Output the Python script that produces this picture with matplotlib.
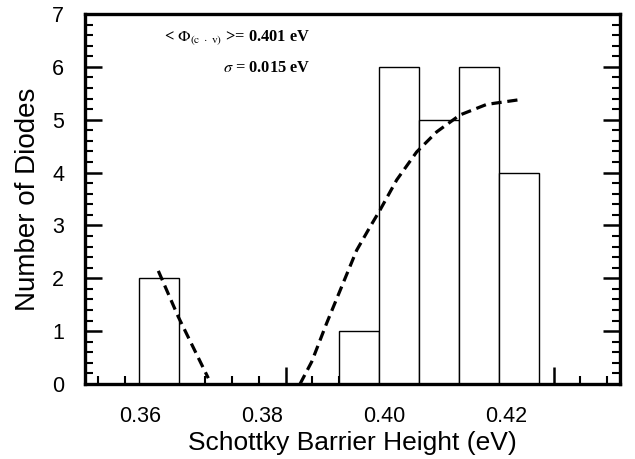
import matplotlib
matplotlib.use("Agg")
import matplotlib.pyplot as plt
import numpy as np

# ---- data ----
bin_left = [0.35984, 0.39257, 0.39912, 0.40566, 0.41221, 0.41876]
counts = [2, 1, 6, 5, 6, 4]
bin_width = 0.00655

fit_left_x = [0.36300, 0.36627, 0.37118]
fit_left_y = [2.14, 1.27, 0.11]
fit_right_x = [0.38619, 0.38810, 0.39055, 0.39300, 0.39546, 0.39764, 0.39928,
               0.40201, 0.40528, 0.40856, 0.41237, 0.41674, 0.42219]
fit_right_y = [0.0, 0.42, 1.15, 1.84, 2.53, 2.97, 3.29,
               3.86, 4.39, 4.77, 5.09, 5.29, 5.38]

xtick_labels = ["0.36", "0.38", "0.40", "0.42"]
xtick_values = [0.36, 0.38, 0.40, 0.42]
yticks = [0, 1, 2, 3, 4, 5, 6, 7]

xlabel = "Schottky Barrier Height (eV)"
ylabel = "Number of Diodes"
ann1 = r"< $\Phi_{\mathrm{(c\ \cdot\ v)}}$ >= 0.401 eV"
ann2 = r"$\sigma$ = 0.015 eV"

# ---- figure ----
plt.rcParams["font.family"] = ["Liberation Sans", "DejaVu Sans"]
plt.rcParams["mathtext.fontset"] = "stix"

fig = plt.figure(figsize=(6.35, 4.59), dpi=100)
ax = fig.add_axes([85 / 635, 1 - 384 / 459, 535 / 635, 370 / 459])

ax.bar(bin_left, counts, width=bin_width, align="edge",
       facecolor="white", edgecolor="black", linewidth=1.0, zorder=2)
for xs, ys in ((fit_left_x, fit_left_y), (fit_right_x, fit_right_y)):
    ax.plot(xs, ys, color="black", linewidth=2.3,
            linestyle=(0, (3.2, 1.8)), dash_capstyle="butt", zorder=3)

ax.set_xlim(0.35100, 0.43856)
ax.set_ylim(0, 7)

# inner tick marks on the bottom axis
step = 0.0043862
inner = [0.353126 + k * step for k in range(20)]
long_idx = [7, 17]
ax.set_xticks([inner[i] for i in long_idx])
ax.set_xticks([v for i, v in enumerate(inner) if i not in long_idx], minor=True)
ax.tick_params(axis="x", which="major", direction="in", length=12, width=1.8,
               labelbottom=False, top=False)
ax.tick_params(axis="x", which="minor", direction="in", length=6, width=1.5,
               top=False)

# labels on a secondary bottom axis
sec = ax.secondary_xaxis("bottom")
sec.set_xticks(xtick_values)
sec.set_xticklabels(xtick_labels)
sec.tick_params(length=0, pad=16, labelsize=15.5)
sec.spines["bottom"].set_visible(False)
sec.set_xlabel(xlabel, fontsize=19, labelpad=3)

ax.set_yticks(yticks)
ax.set_yticks(np.arange(0, 7.01, 0.2), minor=True)
ax.tick_params(axis="y", which="major", direction="in", length=12, width=1.8,
               left=True, right=True, labelsize=15.5, pad=15)
ax.tick_params(axis="y", which="minor", direction="in", length=6, width=1.5,
               left=True, right=True)
ax.set_ylabel(ylabel, fontsize=20, labelpad=8)

for s in ax.spines.values():
    s.set_linewidth(2.4)

ax.text(0.4206, 0.935, ann1, transform=ax.transAxes, ha="right", va="center",
        fontsize=11.8, family="Liberation Serif", fontweight="bold")
ax.text(0.4206, 0.854, ann2, transform=ax.transAxes, ha="right", va="center",
        fontsize=11.8, family="Liberation Serif", fontweight="bold")

fig.savefig("out.png", dpi=100)
